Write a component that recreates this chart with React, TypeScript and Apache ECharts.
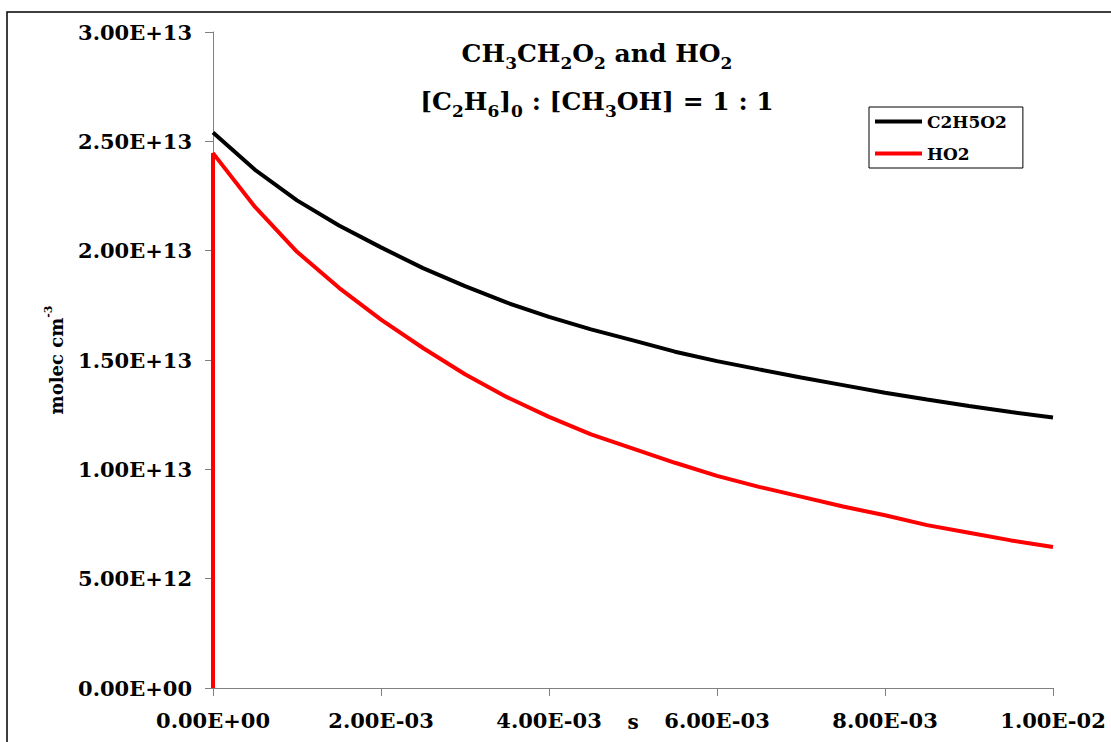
import React, { useEffect, useRef } from "react";
import * as echarts from "echarts";

const timeS = [
  0, 0.0005, 0.001, 0.0015, 0.002, 0.0025, 0.003, 0.0035, 0.004, 0.0045, 0.005,
  0.0055, 0.006, 0.0065, 0.007, 0.0075, 0.008, 0.0085, 0.009, 0.0095, 0.01,
];
const c2h5o2 = [
  2.54e13, 2.37e13, 2.23e13, 2.115e13, 2.015e13, 1.92e13, 1.838e13, 1.762e13, 1.697e13,
  1.64e13, 1.59e13, 1.538e13, 1.495e13, 1.457e13, 1.42e13, 1.385e13, 1.35e13, 1.319e13,
  1.29e13, 1.262e13, 1.237e13,
];
const ho2Start = [[0, 0]];
const ho2 = [
  2.446e13, 2.2e13, 1.995e13, 1.83e13, 1.685e13, 1.555e13, 1.435e13, 1.33e13, 1.24e13,
  1.16e13, 1.095e13, 1.03e13, 9.7e12, 9.2e12, 8.75e12, 8.3e12, 7.9e12, 7.45e12, 7.1e12,
  6.75e12, 6.45e12,
];
const seriesNames = ["C2H5O2", "HO2"];
const xMin = 0, xMax = 0.01, xStep = 0.002;
const yMin = 0, yMax = 3e13, yStep = 5e12;

const FONT = "DejaVu Serif";

function sci(v: number): string {
  if (v === 0) return "0.00E+00";
  const s = v.toExponential(2);
  const [m, e] = s.split("e");
  const n = parseInt(e, 10);
  return m + "E" + (n < 0 ? "-" : "+") + String(Math.abs(n)).padStart(2, "0");
}

export default function App() {
  const ref = useRef<HTMLDivElement>(null);
  useEffect(() => {
    if (!ref.current) return;
    const chart = echarts.init(ref.current, null, { renderer: "svg" });
    const richTitle = {
      m: { fontSize: 25, fontWeight: "bold", fontFamily: FONT, color: "#000", lineHeight: 30, verticalAlign: "top" },
      s: { fontSize: 17, fontWeight: "bold", fontFamily: FONT, color: "#000", lineHeight: 19, verticalAlign: "bottom" },
    };
    const axisLabel = {
      fontFamily: FONT,
      fontWeight: "bold",
      fontSize: 21,
      color: "#000",
      formatter: (v: number) => sci(v),
    };
    chart.setOption({
      animation: false,
      backgroundColor: "#fff",
      grid: { left: 213, right: 58, top: 32, bottom: 54, containLabel: false },
      xAxis: {
        type: "value",
        min: xMin,
        max: xMax,
        interval: xStep,
        axisLine: { show: true, onZero: false, lineStyle: { color: "#808080", width: 1 } },
        axisTick: { show: true, inside: false, length: 8, lineStyle: { color: "#808080" } },
        splitLine: { show: false },
        axisLabel: { ...axisLabel, margin: 22 },
      },
      yAxis: {
        type: "value",
        min: yMin,
        max: yMax,
        interval: yStep,
        axisLine: { show: true, onZero: false, lineStyle: { color: "#808080", width: 1 } },
        axisTick: { show: true, inside: false, length: 8, lineStyle: { color: "#808080" } },
        splitLine: { show: false },
        axisLabel: { ...axisLabel, margin: 21 },
      },
      legend: {
        orient: "vertical",
        left: 869,
        top: 107,
        itemWidth: 47,
        itemHeight: 4,
        itemGap: 15,
        padding: [6, 16, 6, 6],
        borderColor: "#000",
        borderWidth: 1,
        backgroundColor: "#fff",
        data: seriesNames.map((n) => ({ name: n, icon: "rect" })),
        textStyle: { fontFamily: FONT, fontWeight: "bold", fontSize: 17, color: "#000" },
      },
      series: [
        {
          name: seriesNames[0],
          type: "line",
          color: "#000",
          showSymbol: false,
          symbol: "none",
          lineStyle: { color: "#000", width: 4 },
          data: timeS.map((t, i) => [t, c2h5o2[i]]),
        },
        {
          name: seriesNames[1],
          type: "line",
          color: "#ff0000",
          showSymbol: false,
          symbol: "none",
          lineStyle: { color: "#ff0000", width: 4 },
          data: [...ho2Start, ...timeS.map((t, i) => [t, ho2[i]])],
        },
      ],
      graphic: [
        {
          type: "rect",
          z: -1,
          silent: true,
          shape: { x: 7, y: 12, width: 1300, height: 900 },
          style: { fill: "none", stroke: "#000", lineWidth: 1.5 },
        },
        {
          type: "text",
          x: 597,
          y: 56,
          style: {
            text: "{m|CH}{s|3}{m|CH}{s|2}{m|O}{s|2}{m| and HO}{s|2}",
            align: "center",
            verticalAlign: "middle",
            rich: richTitle,
          },
        },
        {
          type: "text",
          x: 597,
          y: 104,
          style: {
            text: "{m|[C}{s|2}{m|H}{s|6}{m|]}{s|0}{m| : [CH}{s|3}{m|OH] = 1 : 1}",
            align: "center",
            verticalAlign: "middle",
            rich: richTitle,
          },
        },
        {
          type: "text",
          x: 633,
          y: 722,
          style: {
            text: "s",
            align: "center",
            verticalAlign: "middle",
            fontFamily: FONT,
            fontWeight: "bold",
            fontSize: 20,
            fill: "#000",
          },
        },
        {
          type: "text",
          x: 54,
          y: 360,
          rotation: Math.PI / 2,
          style: {
            text: "{m|molec cm}{p|-3}",
            align: "center",
            verticalAlign: "middle",
            rich: {
              m: { fontSize: 18, fontWeight: "bold", fontFamily: FONT, color: "#000", lineHeight: 22, verticalAlign: "bottom" },
              p: { fontSize: 11, fontWeight: "bold", fontFamily: FONT, color: "#000", lineHeight: 13, verticalAlign: "top" },
            },
          },
        },
      ],
    });
    return () => chart.dispose();
  }, []);
  return (
    <div
      ref={ref}
      style={{ position: "absolute", left: 0, top: 0, width: 1111, height: 742, background: "#fff" }}
    />
  );
}
